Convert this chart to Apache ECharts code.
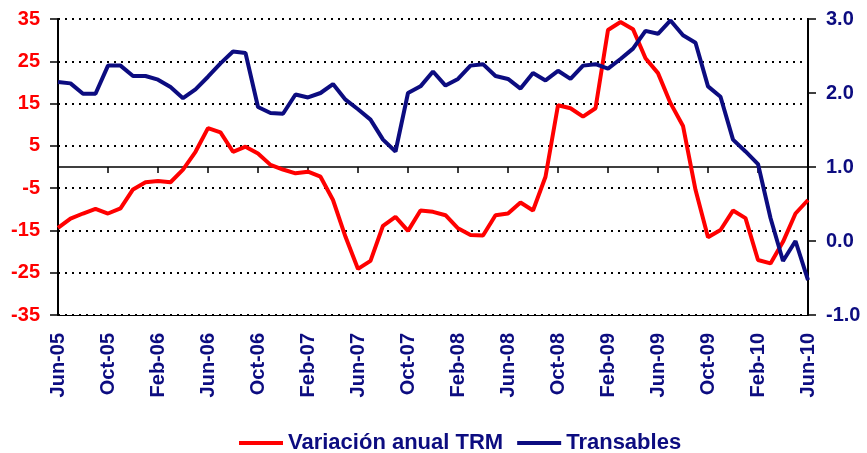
<!DOCTYPE html>
<html>
<head>
<meta charset="utf-8">
<script src="https://cdn.jsdelivr.net/npm/echarts@6/dist/echarts.min.js"></script>
<style>
  html, body { margin: 0; padding: 0; background: #ffffff; }
  #chart { width: 867px; height: 453px; }
</style>
</head>
<body>
<div id="chart"></div>
<script>
// monthly categories Jun-05 .. Jun-10
const months = [
  'Jun-05','Jul-05','Aug-05','Sep-05','Oct-05','Nov-05','Dec-05','Jan-06','Feb-06','Mar-06','Apr-06','May-06',
  'Jun-06','Jul-06','Aug-06','Sep-06','Oct-06','Nov-06','Dec-06','Jan-07','Feb-07','Mar-07','Apr-07','May-07',
  'Jun-07','Jul-07','Aug-07','Sep-07','Oct-07','Nov-07','Dec-07','Jan-08','Feb-08','Mar-08','Apr-08','May-08',
  'Jun-08','Jul-08','Aug-08','Sep-08','Oct-08','Nov-08','Dec-08','Jan-09','Feb-09','Mar-09','Apr-09','May-09',
  'Jun-09','Jul-09','Aug-09','Sep-09','Oct-09','Nov-09','Dec-09','Jan-10','Feb-10','Mar-10','Apr-10','May-10',
  'Jun-10'
];

// Variación anual TRM (left axis, %)
const trm = [
  -14.4, -12.2, -11.0, -9.9, -11.0, -9.8, -5.3, -3.6, -3.3, -3.6, -0.6, 3.6,
  9.2, 8.2, 3.6, 4.8, 3.2, 0.5, -0.6, -1.5, -1.1, -2.3, -7.8, -16.5,
  -24.1, -22.2, -13.9, -11.8, -15.1, -10.3, -10.6, -11.4, -14.5, -16.1, -16.2, -11.4,
  -11.0, -8.4, -10.3, -2.3, 14.6, 13.9, 11.9, 13.9, 32.4, 34.3, 32.6, 25.7,
  22.2, 15.1, 9.7, -5.4, -16.6, -14.9, -10.3, -12.1, -22.0, -22.8, -17.7, -11.0,
  -7.8
];

// Transables (right axis)
const transables = [
  2.15, 2.13, 1.99, 1.99, 2.37, 2.37, 2.23, 2.23, 2.18, 2.08, 1.93, 2.05,
  2.22, 2.40, 2.56, 2.54, 1.81, 1.73, 1.72, 1.98, 1.94, 2.00, 2.12, 1.91,
  1.78, 1.64, 1.37, 1.21, 2.00, 2.09, 2.29, 2.10, 2.19, 2.37, 2.39, 2.23,
  2.19, 2.06, 2.27, 2.17, 2.30, 2.19, 2.37, 2.39, 2.33, 2.46, 2.60, 2.84,
  2.80, 2.98, 2.78, 2.68, 2.09, 1.95, 1.37, 1.21, 1.04, 0.31, -0.27, 0.00,
  -0.53
];

const navy = '#0c0c80';
const red = '#ff0000';
const font = 'Liberation Sans, Arial, sans-serif';

const chart = echarts.init(document.getElementById('chart'));

const option = {
  backgroundColor: '#ffffff',
  animation: false,
  grid: { left: 58, right: 59, top: 19, bottom: 138, containLabel: false },
  legend: {
    left: 234,
    top: 427,
    icon: 'rect',
    itemWidth: 44,
    itemHeight: 4,
    itemGap: 14,
    textStyle: { color: navy, fontFamily: font, fontWeight: 'bold', fontSize: 22 },
    data: ['Variación anual TRM', 'Transables']
  },
  xAxis: [
    {
      // ticks sitting on the zero line
      type: 'category',
      data: months,
      boundaryGap: false,
      axisLine: { onZero: true, lineStyle: { color: '#000', width: 1.5 } },
      axisTick: { interval: 3, length: 6, lineStyle: { color: '#000', width: 1.5 } },
      axisLabel: { show: false },
      splitLine: { show: false }
    },
    {
      // labels along the bottom
      type: 'category',
      data: months,
      boundaryGap: false,
      position: 'bottom',
      axisLine: { onZero: false, lineStyle: { color: '#000', width: 1 } },
      axisTick: { show: false },
      axisLabel: {
        interval: 3,
        rotate: 90,
        margin: 18,
        color: navy,
        fontFamily: font,
        fontWeight: 'bold',
        fontSize: 20
      },
      splitLine: { show: false }
    }
  ],
  yAxis: [
    {
      type: 'value',
      min: -35,
      max: 35,
      interval: 10,
      position: 'left',
      axisLine: { show: true, lineStyle: { color: '#000', width: 2 } },
      axisTick: { show: true, length: 8, lineStyle: { color: '#000', width: 1.5 } },
      axisLabel: { margin: 18, color: red, fontFamily: font, fontWeight: 'bold', fontSize: 20 },
      splitLine: { show: true, lineStyle: { color: '#000', width: 2, type: [2, 5] } }
    },
    {
      type: 'value',
      min: -1,
      max: 3,
      interval: 1,
      position: 'right',
      axisLine: { show: true, lineStyle: { color: '#000', width: 2 } },
      axisTick: { show: true, length: 8, lineStyle: { color: '#000', width: 1.5 } },
      axisLabel: {
        margin: 18,
        color: navy,
        fontFamily: font,
        fontWeight: 'bold',
        fontSize: 20,
        formatter: v => v.toFixed(1)
      },
      splitLine: { show: false }
    }
  ],
  series: [
    {
      name: 'Variación anual TRM',
      type: 'line',
      xAxisIndex: 0,
      yAxisIndex: 0,
      data: trm,
      symbol: 'none',
      color: red,
      lineStyle: { color: red, width: 4 }
    },
    {
      name: 'Transables',
      type: 'line',
      xAxisIndex: 0,
      yAxisIndex: 1,
      data: transables,
      symbol: 'none',
      color: navy,
      lineStyle: { color: navy, width: 4 }
    }
  ]
};

chart.setOption(option);
</script>
</body>
</html>
